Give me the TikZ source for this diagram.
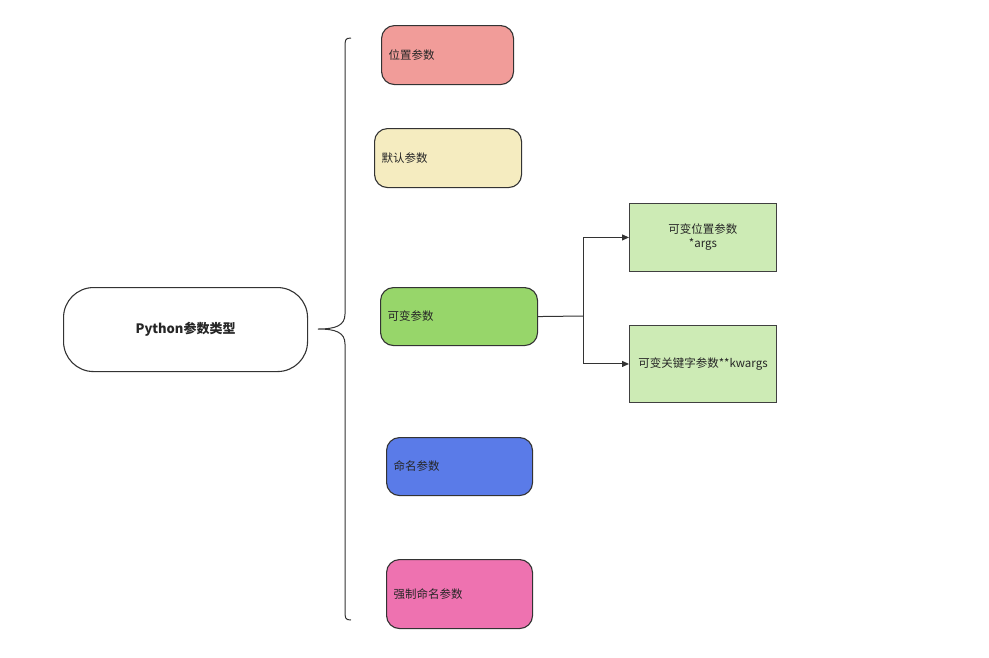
\documentclass[tikz,border=0pt]{standalone}
\usepackage{fontspec}
\setmainfont{Noto Sans CJK SC}
\usetikzlibrary{arrows.meta}
\begin{document}
\begin{tikzpicture}[x=1pt,y=-1pt,
 base/.style={draw=black!80,line width=1.1pt,text=black!85,font=\fontsize{11.5}{14}\selectfont},
 pill/.style={base,rounded corners=13pt,anchor=north west,inner sep=0pt},
 box/.style={base,draw=black!75,line width=0.9pt,anchor=north west,inner sep=0pt,align=center},
 arr/.style={draw=black!80,line width=1pt,-{Triangle[length=7pt,width=6pt]}}]
\useasboundingbox (0,0) rectangle (989,657);
\node[pill,rounded corners=30pt,fill=white,minimum width=244pt,minimum height=84pt,font=\bfseries\fontsize{13}{15}\selectfont] (root) at (63,287) {Python参数类型};
\draw[black!80,line width=1pt] (351,38) .. controls (345,38) and (345,40) .. (345,48) -- (345,314) .. controls (345,326) and (335,329) .. (318,329) .. controls (335,329) and (345,332) .. (345,344) -- (345,610) .. controls (345,618) and (345,620) .. (351,620);
\node[pill,fill={rgb,255:red,241;green,156;blue,153},minimum width=132pt,minimum height=59pt,text width=118pt,align=left] (a) at (381,25) {位置参数};
\node[pill,fill={rgb,255:red,245;green,236;blue,192},minimum width=147pt,minimum height=59pt,text width=133pt,align=left] (b) at (374,128) {默认参数};
\node[pill,fill={rgb,255:red,151;green,214;blue,106},minimum width=157pt,minimum height=58pt,text width=143pt,align=left] (c) at (380,287) {可变参数};
\node[pill,fill={rgb,255:red,90;green,123;blue,232},minimum width=146pt,minimum height=58pt,text width=132pt,align=left] (d) at (386,437) {命名参数};
\node[pill,fill={rgb,255:red,238;green,114;blue,176},minimum width=146pt,minimum height=69pt,text width=132pt,align=left] (e) at (386,559) {强制命名参数};
\node[box,fill={rgb,255:red,205;green,235;blue,181},minimum width=147pt,minimum height=68pt] (f) at (629,203) {可变位置参数\\*args};
\node[box,fill={rgb,255:red,205;green,235;blue,181},minimum width=147pt,minimum height=77pt,text width=130pt] (g) at (629,325) {可变关键字参数**kwargs};
\coordinate (j) at (583,316);
\draw[black!80,line width=1pt] (c.east) -- (j);
\draw[arr] (j) |- (f.west);
\draw[arr] (j) |- (g.west);
\end{tikzpicture}
\end{document}
